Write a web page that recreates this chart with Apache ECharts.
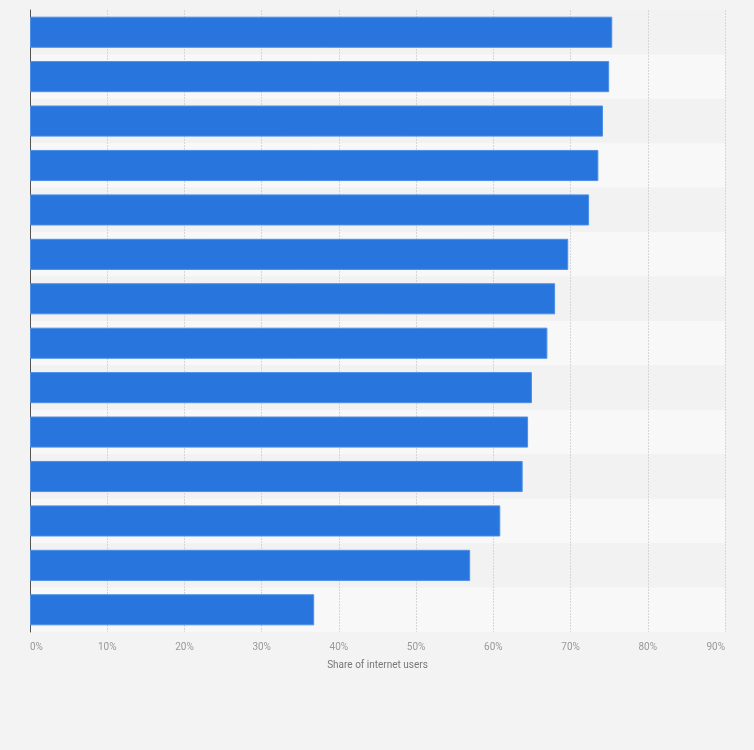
<!DOCTYPE html>
<html lang="en">
<head>
  <meta charset="UTF-8">
  <title>Share of internet users</title>
  <script src="https://cdn.jsdelivr.net/npm/echarts@6/dist/echarts.min.js"></script>
  <style>
    html, body { margin: 0; padding: 0; background: #f3f3f3; }
  </style>
</head>
<body>
<div id="main" style="width: 754px;height:750px;"></div>
<script type="text/javascript">

// category labels are not shown in the source picture
const categories = ['1', '2', '3', '4', '5', '6', '7', '8', '9', '10', '11', '12', '13', '14'];
const shares = [75.4, 75.0, 74.2, 73.6, 72.4, 69.7, 68.0, 67.0, 65.0, 64.5, 63.8, 60.9, 57.0, 36.8];
const xTicks = [0, 10, 20, 30, 40, 50, 60, 70, 80, 90];

const myChart = echarts.init(document.getElementById('main'));

const option = {
  backgroundColor: '#f3f3f3',
  textStyle: {fontFamily: 'Roboto'},
  grid: {left: 30, right: 29, top: 10, bottom: 118, containLabel: false},
  xAxis: {
    type: 'value',
    min: xTicks[0],
    max: xTicks[xTicks.length - 1],
    interval: 10,
    name: 'Share of internet users',
    nameLocation: 'middle',
    nameGap: 28,
    nameTextStyle: {color: '#777', fontSize: 10},
    axisLine: {show: false},
    axisTick: {show: false},
    axisLabel: {
      color: '#999',
      fontSize: 10,
      margin: 10,
      formatter: '{value}%',
      alignMinLabel: 'left',
      alignMaxLabel: 'right'
    },
    splitLine: {
      show: true,
      lineStyle: {color: '#d6d6d6', type: [2, 1], width: 1}
    }
  },
  yAxis: {
    type: 'category',
    data: categories,
    inverse: true,
    axisLine: {show: true, lineStyle: {color: '#555', width: 1}},
    axisTick: {show: false},
    axisLabel: {show: false},
    splitArea: {
      show: true,
      areaStyle: {color: ['#f2f2f2', '#f8f8f8']}
    }
  },
  series: [
    {
      type: 'bar',
      data: shares,
      barCategoryGap: '30%',
      itemStyle: {color: '#2876dd', borderColor: '#4d8fe6', borderWidth: 1},
      silent: true
    }
  ]
};
myChart.setOption(option);
</script>
</body>
</html>
